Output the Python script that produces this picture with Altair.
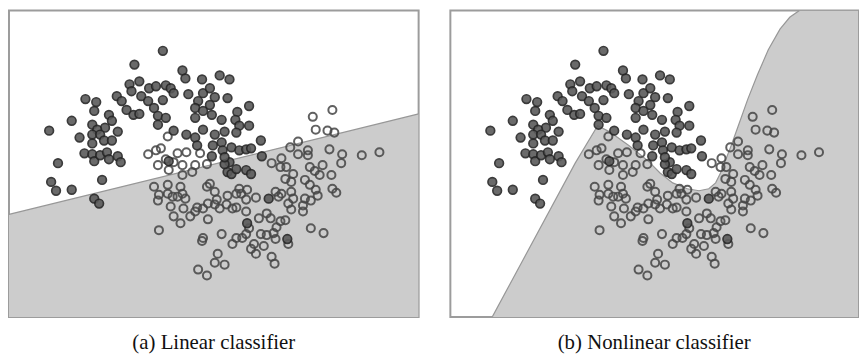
import altair as alt
import pandas as pd

# ---- data (feature units) ----
dark_x = [0.07, -0.22, -0.27, -0.17, -0.72, -0.61, -0.63, -0.40, -0.35, -0.30, -0.23, -0.17, -0.25, -0.15,
          -0.07, 0.00, -0.08, -0.02, 0.02, 0.10, 0.02, 0.10, -0.86, -1.09, -0.48, -0.45, -0.52, -0.65,
          -0.60, -0.65, -0.57, -0.53, -0.45, -0.65, -0.39, -0.78, -0.73, -0.65, -0.63, -0.57, -0.50, -0.48,
          -0.39, -0.36, -1.00, -1.07, -1.02, -0.86, -0.55, -0.63, -0.58,
          0.27, 0.30, 0.47, 0.65, 0.75, 0.15, 0.18, 0.33, 0.48, 0.55, 0.60, 0.73, 0.43, 0.40, 0.48, 0.55,
          0.57, 0.40, 0.67, 0.83, 0.81, 0.95, 0.95, 0.85, 0.82, 0.70, 0.60, 0.31, 0.40, 0.07, 0.18, 0.42,
          0.58, 0.67, 0.68, 0.77, 0.85, 0.92, 0.97, 1.07, 0.57, 0.75, 1.08, 0.13, 0.73, 0.77, 0.92, 0.97,
          0.82, 0.48, 0.70, 0.70, 1.15, 0.93, 1.34]
dark_y = [1.70, 1.56, 1.36, 1.39, 1.21, 1.18, 1.09, 1.24, 1.19, 1.10, 1.05, 1.06, 1.29, 1.24,
          1.32, 1.34, 1.19, 1.12, 1.04, 1.02, 0.95, 1.35, 0.99, 0.89, 1.05, 0.99, 0.92, 0.95,
          0.90, 0.85, 0.85, 0.79, 0.79, 0.76, 0.88, 0.82, 0.66, 0.65, 0.58, 0.64, 0.67, 0.60,
          0.63, 0.57, 0.56, 0.37, 0.28, 0.29, 0.39, 0.20, 0.15,
          1.50, 1.42, 1.41, 1.45, 1.41, 1.32, 1.27, 1.26, 1.27, 1.32, 1.23, 1.22, 1.19, 1.12, 1.09, 1.15,
          1.05, 1.02, 1.00, 1.08, 1.00, 1.14, 0.94, 0.94, 0.87, 0.88, 0.85, 0.85, 0.82, 1.20, 0.89, 0.74,
          0.74, 0.77, 0.69, 0.72, 0.69, 0.70, 0.71, 0.79, 0.63, 0.57, 0.63, 0.58, 0.47, 0.45, 0.49, 0.45,
          0.50, 0.90, 0.55, 0.62, 0.20, -0.05, -0.21]

light_x = [0.12, 0.45, 0.22, -0.08, 0.00, 0.05, 0.10, 0.18, 0.27, 0.02, 0.13, 0.40, 0.52, 1.18, 1.28,
           1.27, 1.33, 1.37, 1.45, 1.45, 1.55, 1.55, 1.63, 1.75, 1.82, 1.77, 1.90, 1.89, 2.10, 2.28,
           1.57, 1.62, 1.70, 1.67, 1.79, 1.80, 1.84, 1.40, 1.32, 1.38, 1.52, 1.57, 1.63, 1.65, 1.58,
           1.52, 1.50, 1.50, 1.38, 1.40, 1.35, 1.38, 1.28, 1.22, 1.25, 1.02, 0.92, 0.85, 0.87, 0.82,
           0.73, 0.60, 0.55, 0.52, 0.62, 0.72, 0.65, 0.60, 0.53, 0.48, 0.42, 0.40, 0.28, 0.35, 0.27,
           0.30, 0.22, 0.17, 0.03, 0.02, 0.12, -0.02, 0.25, 0.15, 0.18, 0.25, 0.03, 0.53, 0.67, 0.78,
           0.82, 0.92, 0.95, 0.92, 0.82, 0.88, 0.78, 0.47, 0.48, 0.63, 0.60, 0.70, 0.43, 0.52, 1.05,
           1.13, 1.17, 1.07, 1.13, 1.20, 1.23, 1.22, 1.00, 0.97, 1.02, 1.10, 1.27, 1.32, 1.35, 1.18,
           1.21, 1.58, 1.71, 1.60, 1.80, 0.27, 0.37, 0.31, 0.93, 0.12]
light_y = [0.83, 0.66, 0.66, 0.65, 0.69, 0.71, 0.60, 0.57, 0.54, 0.54, 0.49, 0.54, 0.55, 0.56, 0.61,
           0.52, 0.52, 0.72, 0.78, 0.65, 0.69, 0.64, 0.90, 0.89, 0.87, 0.70, 0.65, 0.56, 0.64, 0.67,
           0.52, 0.48, 0.54, 0.44, 0.44, 0.30, 0.26, 0.45, 0.40, 0.37, 0.39, 0.34, 0.29, 0.23, 0.18,
           0.20, 0.13, 0.07, 0.27, 0.20, 0.15, 0.09, 0.25, 0.27, 0.22, 0.21, 0.19, 0.30, 0.25, 0.25,
           0.23, 0.27, 0.35, 0.32, 0.19, 0.14, 0.10, 0.14, 0.15, 0.10, 0.11, 0.07, 0.10, 0.02, 0.25,
           0.20, 0.22, 0.22, 0.24, 0.18, 0.34, 0.32, 0.32, 0.12, 0.02, -0.05, -0.12, -0.01, -0.16, 0.10,
           0.11, 0.07, -0.10, -0.16, -0.20, -0.20, -0.26, -0.23, -0.20, -0.36, -0.45, -0.47, -0.52, -0.58, 0.00,
           0.05, 0.00, -0.16, -0.17, -0.15, -0.09, -0.21, -0.26, -0.31, -0.36, -0.28, -0.03, -0.02, -0.26, -0.39,
           -0.46, -0.10, -0.15, 1.03, 1.10, 0.44, 0.47, 0.67, 0.29, 0.25]

# decision boundaries (upper edge of the grey class-1 region)
linear_x = [-1.5, 2.68]
linear_y = [0.04, 1.06]
nonlin_x = [-1.07, -0.22, 0.01, 0.13, 0.33, 0.53, 0.65, 0.78, 0.93, 1.05, 1.15, 1.22, 1.27, 1.31,
            1.38, 1.46, 1.55, 1.65, 1.76, 1.88, 1.98, 2.08, 2.68]
nonlin_y = [-1.0, 0.56, 0.94, 0.88, 0.74, 0.58, 0.46, 0.36, 0.30, 0.28, 0.30, 0.36, 0.46, 0.56,
            0.74, 0.96, 1.21, 1.46, 1.71, 1.92, 2.04, 2.11, 2.11]

captions = ["(a) Linear classifier", "(b) Nonlinear classifier"]
X_DOMAIN = [-1.5, 2.68]
Y_DOMAIN = [-1.0, 2.11]
Y_BOTTOM = -1.0

dark_df = pd.DataFrame({"x": dark_x, "y": dark_y})
light_df = pd.DataFrame({"x": light_x, "y": light_y})


def panel(bx, by, caption, w, h):
    xs = alt.Scale(domain=X_DOMAIN, nice=False, zero=False)
    ys = alt.Scale(domain=Y_DOMAIN, nice=False, zero=False)
    bdf = pd.DataFrame({"x": bx, "y": by})
    area = alt.Chart(bdf).mark_area(
        color="#cccccc", opacity=1, clip=True, interpolate="linear",
        line={"color": "#979797", "strokeWidth": 1.2},
    ).encode(
        x=alt.X("x:Q", scale=xs, axis=None),
        y=alt.Y("y:Q", scale=ys, axis=None),
        y2=alt.datum(Y_BOTTOM),
    )
    light = alt.Chart(light_df).mark_point(
        shape="circle", filled=False, size=66, stroke="#454545", strokeWidth=2.0, opacity=0.85
    ).encode(x=alt.X("x:Q", scale=xs, axis=None), y=alt.Y("y:Q", scale=ys, axis=None))
    dark = alt.Chart(dark_df).mark_point(
        shape="circle", filled=True, size=76, fill="#5a5a5a", stroke="#262626", strokeWidth=1.7, opacity=0.9
    ).encode(x=alt.X("x:Q", scale=xs, axis=None), y=alt.Y("y:Q", scale=ys, axis=None))
    return alt.layer(area, light, dark).properties(
        width=w, height=h,
        title=alt.TitleParams(caption, orient="bottom", anchor="middle", font="Liberation Serif",
                              fontSize=21, fontWeight="normal", color="#111111", offset=15),
    )


left = panel(linear_x, linear_y, captions[0], 413, 309)
right = panel(nonlin_x, nonlin_y, captions[1], 411, 309)

chart = alt.hconcat(left, right, spacing=30).properties(padding=0).configure_view(
    stroke="#9c9c9c", strokeWidth=2, fill="white"
)

chart.save("out.html", embed_options={"renderer": "svg", "actions": False})
